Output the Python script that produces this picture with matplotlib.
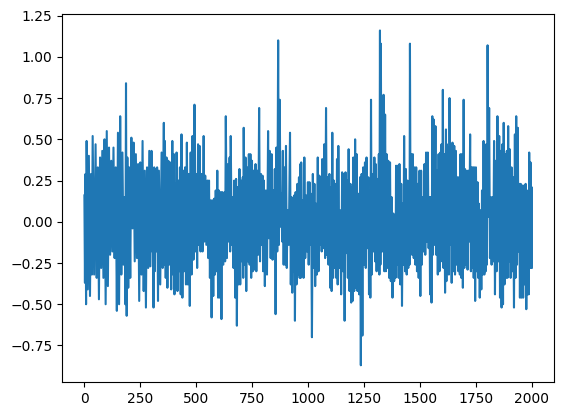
import numpy as np
import matplotlib
matplotlib.use("Agg")
import matplotlib.pyplot as plt

# sample index where each up/down swing of the trace was read
t = [0, 5, 10, 20, 30, 37, 50, 60, 70, 80, 90, 100, 110, 120, 130, 140, 150, 160, 170, 180,
     186, 192, 200, 210, 220, 230, 240, 250, 260, 270, 280, 290,
     300, 306, 312, 317, 325, 333, 345, 355, 360, 367, 375, 383, 393, 400, 405, 412, 420, 427,
     434, 442, 450, 458, 467, 475, 483, 492, 500, 508, 515, 523, 533, 540, 550, 557, 565, 572,
     580, 587, 594, 601, 609, 616, 626,
     632, 642, 649, 654, 663, 670, 678, 685, 693, 700, 708, 712, 720, 727, 735, 742, 749, 756,
     765, 772, 781, 789, 796, 802, 811, 821, 828, 837, 845, 851, 858, 866, 873, 881, 887, 894,
     901, 908, 919, 926, 932, 938, 944, 952, 959,
     965, 969, 976, 983, 991, 999, 1006, 1013, 1021, 1028, 1035, 1043, 1050, 1058, 1063, 1072,
     1080, 1087, 1095, 1102, 1108, 1115, 1122, 1129, 1135, 1143, 1152, 1159, 1167, 1174, 1181,
     1189, 1196, 1202, 1210, 1217, 1224, 1232, 1239, 1246, 1254, 1261, 1269, 1275, 1281, 1288,
     1296, 1302,
     1310, 1316, 1321, 1325, 1331, 1337, 1344, 1351, 1358, 1366, 1373, 1381, 1388, 1393, 1401,
     1408, 1416, 1423, 1429, 1437, 1444, 1451, 1455, 1461, 1468, 1476, 1483, 1490, 1498, 1505,
     1512, 1520, 1527, 1535, 1542, 1548, 1555, 1561, 1569, 1576, 1583, 1591, 1596, 1602, 1608,
     1616,
     1620, 1626, 1632, 1638, 1645, 1653, 1660, 1668, 1675, 1681, 1688, 1695, 1701, 1709, 1716,
     1724, 1731, 1737, 1743, 1750, 1757, 1763, 1771, 1777, 1784, 1791, 1796, 1802, 1809, 1816,
     1824, 1831, 1839, 1846, 1854, 1861, 1868, 1874, 1881, 1888, 1894, 1901, 1909, 1916, 1924,
     1930, 1937, 1943, 1950, 1957, 1965, 1972, 1978, 1984, 1988, 1994, 1999]

# upper swing values
hi = [0.16, 0.29, 0.49, 0.40, 0.29, 0.52, 0.47, 0.33, 0.39, 0.43, 0.50, 0.55, 0.45, 0.37, 0.45,
      0.33, 0.54, 0.64, 0.42, 0.15, 0.84, 0.39, 0.33, 0.51, 0.48, 0.41, 0.35, 0.36, 0.49, 0.31,
      0.33, 0.43,
      0.43, 0.32, 0.33, 0.32, 0.33, 0.31, 0.42, 0.60, 0.49, 0.39, 0.37, 0.36, 0.49, 0.41, 0.23,
      0.42, 0.25, 0.33, 0.53, 0.31, 0.33, 0.48, 0.29, 0.42, 0.52, 0.71, 0.29, 0.47, 0.46, 0.29,
      0.52, 0.28, 0.25, 0.25, 0.13, 0.13, 0.14, 0.19, 0.31, 0.19, 0.18, 0.18, 0.18,
      0.64, 0.35, 0.39, 0.52, 0.15, 0.25, 0.26, 0.21, 0.32, 0.25, 0.27, 0.57, 0.39, 0.33, 0.41,
      0.41, 0.37, 0.31, 0.35, 0.31, 0.69, 0.29, 0.28, 0.25, 0.19, 0.55, 0.43, 0.41, 0.19, 0.32,
      0.45, 1.10, 0.74, 0.17, 0.43, 0.33, 0.46, 0.07, 0.54, 0.15, 0.14, 0.16, 0.18, 0.23, 0.27,
      0.35, 0.36, 0.13, 0.39, 0.16, 0.24, 0.24, 0.17, 0.29, 0.23, 0.11, 0.39, 0.28, 0.27, 0.38,
      0.47, 0.69, 0.27, 0.29, 0.21, 0.54, 0.25, 0.23, 0.38, 0.46, 0.07, 0.30, 0.29, 0.30, 0.25,
      0.44, 0.23, 0.21, 0.39, 0.50, 0.41, 0.17, 0.27, 0.29, 0.33, 0.36, 0.39, 0.27, 0.19, 0.74,
      0.29, 0.39, 0.35,
      0.26, 0.41, 1.16, 1.08, 0.05, 0.77, 0.65, 0.41, 0.37, 0.36, 0.15, 0.05, 0.02, 0.34, 0.34,
      0.35, 0.23, 0.11, 0.52, 0.32, 0.25, 0.23, 1.08, 0.41, 0.41, 0.33, 0.33, 0.23, 0.31, 0.31,
      0.15, 0.35, 0.42, 0.42, 0.15, 0.15, 0.64, 0.62, 0.58, 0.31, 0.41, 0.42, 0.47, 0.80, 0.41,
      0.56,
      0.47, 0.45, 0.75, 0.47, 0.48, 0.46, 0.43, 0.27, 0.27, 0.41, 0.41, 0.74, 0.32, 0.31, 0.31,
      0.53, 0.33, 0.33, 0.33, 0.33, 0.24, 0.11, 0.07, 0.19, 0.49, 0.43, 0.47, 1.07, 0.69, 0.15,
      0.15, 0.49, 0.37, 0.64, 0.52, 0.43, 0.47, 0.60, 0.41, 0.43, 0.58, 0.44, 0.33, 0.27, 0.53,
      0.64, 0.57, 0.23, 0.23, 0.22, 0.22, 0.23, 0.19, 0.17, 0.42, 0.36, 0.21]

# lower swing values
lo = [-0.37, -0.50, -0.41, -0.45, -0.32, -0.32, -0.34, -0.47, -0.28, -0.34, -0.50, -0.39, -0.20,
      -0.18, -0.22, -0.54, -0.50, -0.32, -0.26, -0.50, -0.57, -0.40, -0.34, -0.04, -0.24, -0.22,
      -0.48, -0.32, -0.42, -0.52, -0.28, -0.27,
      -0.18, -0.52, -0.30, -0.18, -0.48, -0.38, -0.28, -0.26, -0.34, -0.40, -0.26, -0.41, -0.32,
      -0.44, -0.40, -0.42, -0.30, -0.44, -0.46, -0.30, -0.38, -0.38, -0.51, -0.32, -0.23, -0.18,
      -0.28, -0.14, -0.18, -0.18, -0.12, -0.14, -0.22, -0.34, -0.58, -0.45, -0.32, -0.30, -0.46,
      -0.46, -0.59, -0.26, -0.24,
      -0.22, -0.12, -0.18, -0.14, -0.28, -0.46, -0.63, -0.38, -0.38, -0.24, -0.34, -0.26, -0.42,
      -0.24, -0.26, -0.34, -0.30, -0.29, -0.30, -0.20, -0.24, -0.14, -0.30, -0.39, -0.32, -0.10,
      -0.22, -0.23, -0.17, -0.56, -0.18, -0.14, -0.03, -0.12, -0.26, -0.26, -0.28, -0.14, -0.38,
      -0.43, -0.30, -0.60, -0.38, -0.32, -0.34,
      -0.34, -0.16, -0.34, -0.22, -0.18, -0.26, -0.14, -0.70, -0.28, -0.39, -0.32, -0.30, -0.14,
      -0.18, -0.16, -0.22, -0.20, -0.26, -0.40, -0.42, -0.34, -0.28, -0.34, -0.38, -0.28, -0.44,
      -0.30, -0.60, -0.19, -0.34, -0.42, -0.49, -0.48, -0.42, -0.40, -0.42, -0.44, -0.87, -0.69,
      -0.26, -0.28, -0.16, -0.44, -0.46, -0.32, -0.18, -0.24, -0.30,
      -0.10, -0.32, -0.26, -0.18, -0.18, -0.30, -0.30, -0.28, -0.34, -0.36, -0.46, -0.36, -0.34,
      -0.26, -0.34, -0.38, -0.51, -0.26, -0.30, -0.32, -0.28, -0.26, -0.14, -0.20, -0.22, -0.26,
      -0.30, -0.34, -0.45, -0.26, -0.18, -0.20, -0.12, -0.16, -0.44, -0.49, -0.20, -0.14, -0.20,
      -0.32, -0.30, -0.24, -0.22, -0.28, -0.43, -0.36,
      -0.28, -0.32, -0.14, -0.37, -0.30, -0.32, -0.26, -0.30, -0.32, -0.34, -0.40, -0.28, -0.26,
      -0.29, -0.12, -0.30, -0.28, -0.34, -0.48, -0.30, -0.34, -0.46, -0.41, -0.32, -0.32, -0.30,
      -0.26, 0.03, -0.22, -0.26, -0.24, -0.44, -0.30, -0.24, -0.46, -0.52, -0.50, -0.38, -0.34,
      -0.34, -0.24, -0.34, -0.30, -0.52, -0.34, -0.26, -0.18, -0.46, -0.46, -0.46, -0.38, -0.53,
      -0.44, -0.44, -0.28, -0.28, -0.28]

# weave high and low swings into one trace, lows sit between two highs
t_arr = np.array(t, dtype=float)
t_lo = np.append((t_arr[:-1] + t_arr[1:]) / 2, t_arr[-1])
x = np.column_stack([t_arr, t_lo]).ravel()
y = np.column_stack([hi, lo]).ravel()

fig = plt.figure(figsize=(5.68, 4.16), dpi=100)
ax = fig.add_axes([0.1092, 0.0817, 0.8662, 0.8853])
ax.plot(x, y, color="#1f77b4", linewidth=1.5)

fig.savefig("out.png", dpi=100)
